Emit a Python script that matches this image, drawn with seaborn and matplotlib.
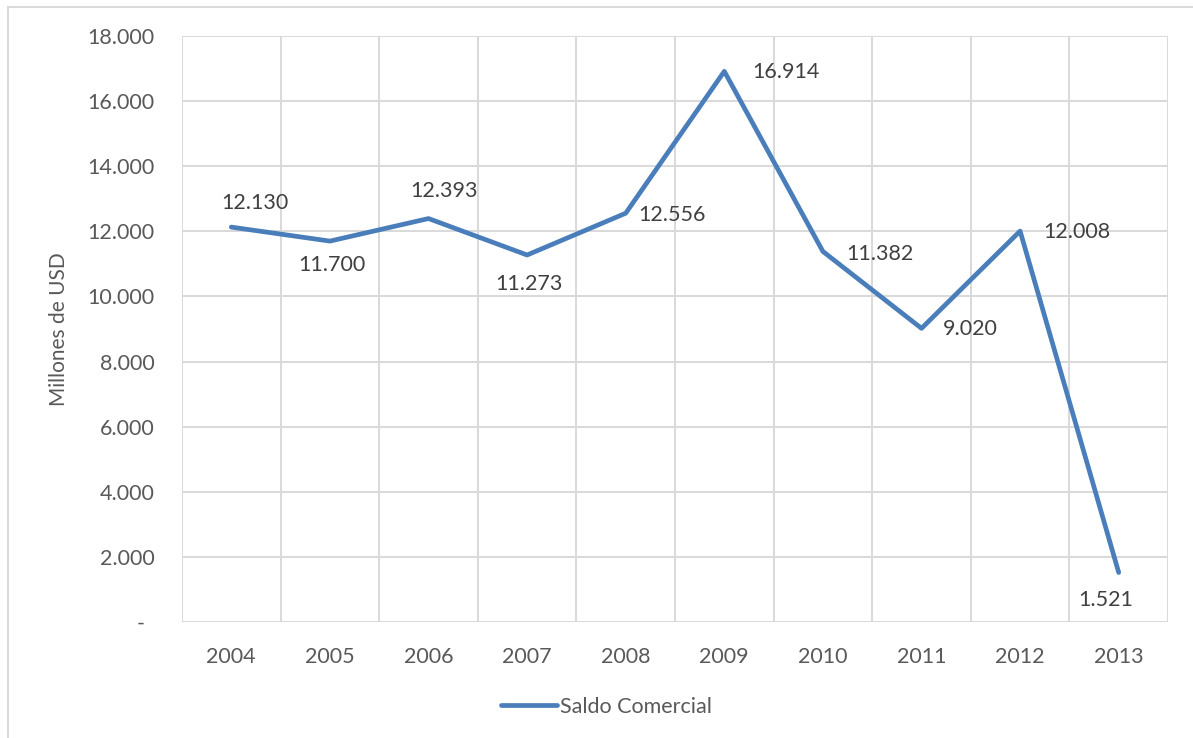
import matplotlib
matplotlib.use("Agg")
import matplotlib.pyplot as plt
import matplotlib.ticker as mticker
from matplotlib.lines import Line2D
import seaborn as sns
import pandas as pd

years = ["2004", "2005", "2006", "2007", "2008", "2009", "2010", "2011", "2012", "2013"]
saldo = [12130, 11700, 12393, 11273, 12556, 16914, 11382, 9020, 12008, 1521]
y_ticks = [0, 2000, 4000, 6000, 8000, 10000, 12000, 14000, 16000, 18000]
# label offsets in points (dx, dy) relative to each data point
label_offsets = [(17, 17), (1.5, -17), (11.5, 19.5), (1.5, -21), (33, -1.5),
                 (44.5, -0.7), (41, -1.5), (35, -0.7), (41, -0.7), (-9.5, -20)]

sns.set_theme(style="white")
plt.rcParams["font.family"] = ["Lato", "DejaVu Sans"]

text_color = "#595959"
grid_color = "#d9d9d9"
line_color = "#4a7ebb"
fs = 15.5

df = pd.DataFrame({"Año": list(range(len(years))), "Saldo Comercial": saldo})

fig = plt.figure(figsize=(11.93, 7.38), dpi=100)
ax = fig.add_axes([182 / 1193, 1 - 622 / 738, (1168 - 182) / 1193, (622 - 36) / 738])

sns.lineplot(data=df, x="Año", y="Saldo Comercial", ax=ax, color=line_color,
             linewidth=3.4, solid_capstyle="round", solid_joinstyle="round", zorder=3)

ax.set_xlim(-0.5, len(years) - 0.5)
ax.set_ylim(0, 18000)
ax.set_yticks(y_ticks)

def fmt(v, pos=None):
    if v == 0:
        return "-"
    return f"{int(v):,}".replace(",", ".")

ax.yaxis.set_major_formatter(mticker.FuncFormatter(fmt))
ax.set_xticks(range(len(years)))
ax.set_xticklabels(years)

ax.grid(False)
for y in y_ticks:
    ax.axhline(y, color=grid_color, linewidth=1.4, zorder=1)
for i in range(len(years) + 1):
    ax.axvline(i - 0.5, color=grid_color, linewidth=1.4, zorder=1)
for s in ax.spines.values():
    s.set_visible(False)

ax.tick_params(axis="both", which="both", length=0, labelsize=fs, labelcolor=text_color)
ax.tick_params(axis="y", pad=19.5)
ax.tick_params(axis="x", pad=18)
ax.set_xlabel("")
ax.set_ylabel("Millones de USD", fontsize=15, color=text_color)
ax.yaxis.label.set_va("center")
ax.yaxis.set_label_coords((59 - 182) / 986, 0.5)

# the zero label sits a little left of the other tick labels
fig.canvas.draw()
ax.get_yticklabels()[0].set_x(-0.0105)

for i, (v, (dx, dy)) in enumerate(zip(saldo, label_offsets)):
    ax.annotate(fmt(v), (i, v), xytext=(dx, dy), textcoords="offset points",
                ha="center", va="center", fontsize=fs, color="#404040", zorder=4)

handle = Line2D([0], [0], color=line_color, linewidth=3.4, solid_capstyle="round")
fig.legend([handle], ["Saldo Comercial"], loc="center", bbox_to_anchor=(606.5 / 1193, 1 - 707 / 738),
           frameon=False, fontsize=fs, labelcolor=text_color, handlelength=2.6, handletextpad=0.15)

# light outer frame
fig.add_artist(Line2D([8 / 1193, 8 / 1193], [0, 1 - 7 / 738], transform=fig.transFigure, color=grid_color, linewidth=1.4))
fig.add_artist(Line2D([8 / 1193, 1], [1 - 7 / 738, 1 - 7 / 738], transform=fig.transFigure, color=grid_color, linewidth=1.4))

fig.savefig("out.png", dpi=100, facecolor="white")
